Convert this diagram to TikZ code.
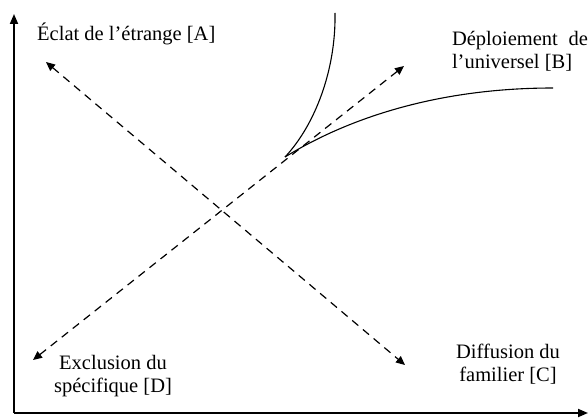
\documentclass[tikz,border=0pt]{standalone}
\usepackage{fontspec}
\setmainfont{Liberation Serif}
\usetikzlibrary{arrows.meta}
\begin{document}
\begin{tikzpicture}[x=1pt,y=-1pt,
  lbl/.style={font=\fontsize{20.5}{23}\selectfont, inner sep=0pt, align=center},
  axis/.style={line width=1.8pt, -{Triangle[length=10pt,width=8pt]}},
  dasharrow/.style={line width=1.2pt, dash pattern=on 8pt off 6pt, {Triangle[length=9pt,width=8pt]}-{Triangle[length=9pt,width=8pt]}},
  curve/.style={line width=1.1pt}]
\useasboundingbox (0,0) rectangle (588,417);
% axes
\coordinate (O) at (14,413);
\coordinate (Ytop) at (14,14);
\coordinate (Xend) at (588,413);
\draw[axis] (O) -- (Ytop);
\draw[axis] (O) -- (Xend);
% dashed directions
\coordinate (Aend) at (46,62);
\coordinate (Cend) at (405,365);
\coordinate (Dend) at (33,360);
\coordinate (Bend) at (404,66);
\draw[dasharrow] (Aend) -- (Cend);
\draw[dasharrow] (Dend) -- (Bend);
% curves
\coordinate (cusp) at (285,157);
\coordinate (Ctop) at (335,13);
\coordinate (Cright) at (553,88);
\draw[curve] (cusp) .. controls (315,125) and (336,70) .. (Ctop);
\draw[curve] (cusp) .. controls (350,117) and (440,88) .. (Cright);
% labels
\node[lbl, anchor=base west] (A) at (37,41) {Éclat de l’étrange [A]};
\node[lbl, align=left, anchor=center] (B) at (520,51) {\makebox[136pt][s]{Déploiement de}\\l’universel [B]};
\node[lbl] (C) at (508,364) {Diffusion du\\familier [C]};
\node[lbl] (D) at (113,376) {Exclusion du\\spécifique [D]};
\end{tikzpicture}
\end{document}
